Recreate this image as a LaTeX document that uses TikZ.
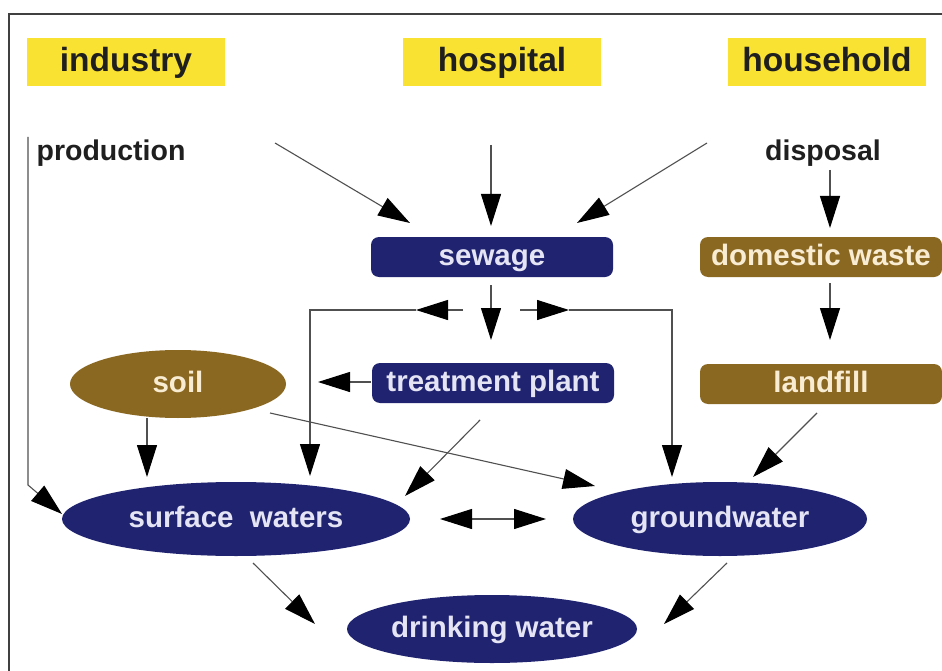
\documentclass[tikz,border=0pt]{standalone}
\usepackage{fontspec}
\setmainfont{Liberation Sans}
\usetikzlibrary{shapes.geometric,arrows.meta}
\definecolor{navy}{RGB}{31,35,112}
\definecolor{mud}{RGB}{139,104,34}
\definecolor{sun}{RGB}{250,226,50}
\definecolor{ln}{RGB}{80,80,80}
\definecolor{navytxt}{RGB}{228,228,245}
\definecolor{mudtxt}{RGB}{248,236,210}
\begin{document}
\begin{tikzpicture}[x=1pt,y=-1pt,
  bigtxt/.style={text height=26pt, text depth=6pt, font=\fontsize{33.5}{36}\selectfont\bfseries},
  midtxt/.style={text height=23pt, text depth=5.5pt, font=\fontsize{29.5}{32}\selectfont\bfseries},
  smalltxt/.style={text height=22pt, text depth=5.5pt, font=\fontsize{28.5}{32}\selectfont\bfseries},
  src/.style={bigtxt, fill=sun, minimum width=198pt, minimum height=48pt, inner sep=0pt, text=black!88},
  lab/.style={smalltxt, text=black!88, inner sep=0pt},
  navybox/.style={midtxt, fill=navy, rounded corners=8pt, minimum width=242pt, minimum height=40pt,
    inner sep=0pt, text=navytxt},
  mudbox/.style={midtxt, fill=mud, rounded corners=8pt, minimum width=242pt, minimum height=40pt,
    inner sep=0pt, text=mudtxt},
  navyell/.style={midtxt, ellipse, fill=navy, inner sep=0pt, text=navytxt},
  mudell/.style={midtxt, ellipse, fill=mud, inner sep=0pt, text=mudtxt},
  conn/.style={draw=ln, line width=1.1pt},
  tipx/.tip={Triangle[length=32pt,width=20pt,color=black]},
  arr/.style={conn, -tipx},
  frame/.style={draw=black!75, line width=1.5pt}
]
\useasboundingbox[fill=white] (0,0) rectangle (942,671);
\draw[frame] (9,671) -- (9,14) -- (942,14);

% source boxes
\node[src] (ind) at (126,62) {industry};
\node[src] (hosp) at (502,62) {hospital};
\node[src] (house) at (827,62) {household};
\node[lab] (prod) at (111,152) {production};
\node[lab] (disp) at (823,152) {disposal};

% boxes
\node[navybox] (sew) at (492,257) {sewage};
\node[mudbox] (dom) at (821,257) {domestic waste};
\node[navybox] (treat) at (493,383) {treatment plant};
\node[mudbox] (land) at (821,384) {landfill};

% ellipses
\node[mudell, minimum width=216pt, minimum height=68pt] (soil) at (178,384) {soil};
\node[navyell, minimum width=348pt, minimum height=74pt] (surf) at (236,519) {surface\hspace{0.55em}waters};
\node[navyell, minimum width=294pt, minimum height=74pt] (ground) at (720,519) {groundwater};
\node[navyell, minimum width=290pt, minimum height=68pt] (drink) at (492,629) {drinking water};

% connector end points
\coordinate (p0) at (28,137);
\coordinate (p1) at (28,485);
\coordinate (p2) at (62,514);
\coordinate (hl0) at (275,143);
\coordinate (hl1) at (410,223);
\coordinate (hc0) at (491,145);
\coordinate (hc1) at (491,226);
\coordinate (hr0) at (707,143);
\coordinate (hr1) at (577,223);
\coordinate (d0) at (830,170);
\coordinate (d1) at (830,228);
\coordinate (dl0) at (830,283);
\coordinate (dl1) at (830,340);
\coordinate (st0) at (491,285);
\coordinate (st1) at (491,340);
\coordinate (sl0) at (463,310);
\coordinate (sl1) at (416,310);
\coordinate (sl2) at (310,310);
\coordinate (sl3) at (310,476);
\coordinate (sr0) at (520,310);
\coordinate (sr1) at (569,310);
\coordinate (sr2) at (672,310);
\coordinate (sr3) at (672,477);
\coordinate (ts0) at (371,382);
\coordinate (ts1) at (318,382);
\coordinate (ss0) at (147,418);
\coordinate (ss1) at (147,477);
\coordinate (tw0) at (480,420);
\coordinate (tw1) at (405,496);
\coordinate (sg0) at (270,413);
\coordinate (sg1) at (595,486);
\coordinate (lg0) at (817,413);
\coordinate (lg1) at (753,477);
\coordinate (ww0) at (440,519);
\coordinate (ww1) at (546,519);
\coordinate (sd0) at (253,563);
\coordinate (sd1) at (315,624);
\coordinate (gd0) at (727,563);
\coordinate (gd1) at (664,624);

% connectors
\draw[arr] (p0) -- (p1) -- (p2);
\draw[arr] (hl0) -- (hl1);
\draw[arr] (hc0) -- (hc1);
\draw[arr] (hr0) -- (hr1);
\draw[arr] (d0) -- (d1);
\draw[arr] (dl0) -- (dl1);
\draw[arr] (st0) -- (st1);
\draw[arr] (sl0) -- (sl1);
\draw[arr] (sl1) -- (sl2) -- (sl3);
\draw[arr] (sr0) -- (sr1);
\draw[arr] (sr1) -- (sr2) -- (sr3);
\draw[arr] (ts0) -- (ts1);
\draw[arr] (ss0) -- (ss1);
\draw[arr] (tw0) -- (tw1);
\draw[arr] (sg0) -- (sg1);
\draw[arr] (lg0) -- (lg1);
\draw[conn, tipx-tipx] (ww0) -- (ww1);
\draw[arr] (sd0) -- (sd1);
\draw[arr] (gd0) -- (gd1);
\end{tikzpicture}
\end{document}
